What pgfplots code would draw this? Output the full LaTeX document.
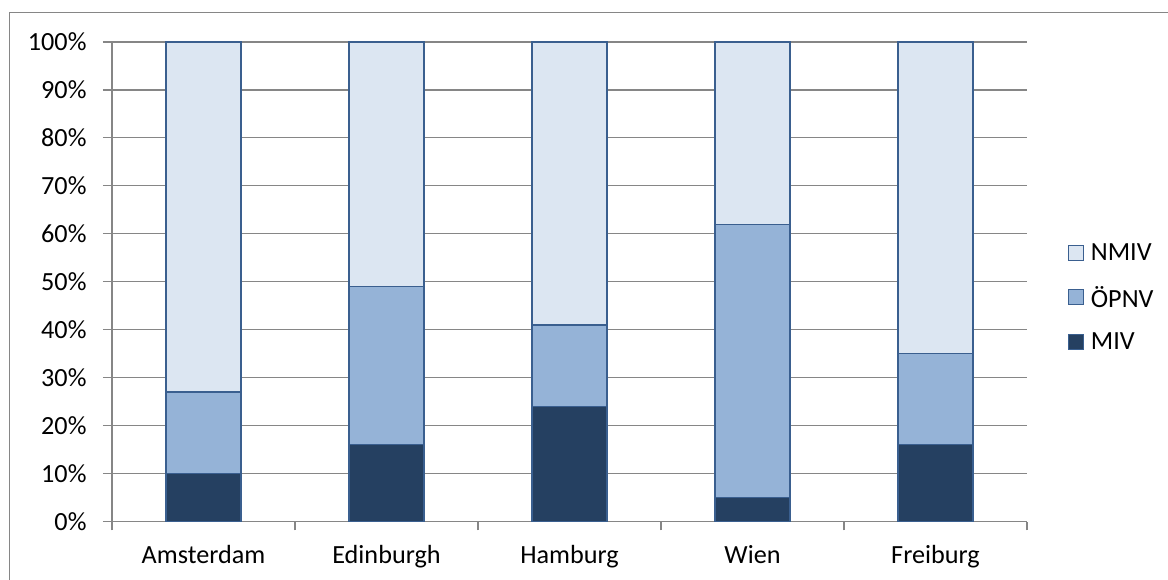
\documentclass[border=0pt]{standalone}
\usepackage{pgfplots}
\pgfplotsset{compat=1.18}
\usepackage{fontspec}
\setmainfont{Carlito}
\definecolor{nmiv}{HTML}{DCE6F2}
\definecolor{opnv}{HTML}{95B3D7}
\definecolor{miv}{HTML}{254061}
\definecolor{barline}{HTML}{3A5F8F}
\definecolor{gridc}{HTML}{868686}
\begin{document}
\begin{tikzpicture}
\useasboundingbox (0,0) rectangle (1168bp,580bp);
\clip (0,0) rectangle (1168bp,580bp);
\draw[gridc, line width=1.2bp] (9.5bp,-5bp) -- (9.5bp,567.5bp) -- (1180bp,567.5bp);
\begin{axis}[
  at={(112bp,58.5bp)}, anchor=south west,
  scale only axis, width=915bp, height=479.5bp,
  ybar stacked, bar width=75bp,
  xmin=-0.5, xmax=4.5, ymin=0, ymax=100,
  xtick={0,1,2,3,4},
  xticklabels={Amsterdam,Edinburgh,Hamburg,Wien,Freiburg},
  minor xtick={-0.5,0.5,1.5,2.5,3.5,4.5},
  ytick={0,10,...,100},
  yticklabels={0\%,10\%,20\%,30\%,40\%,50\%,60\%,70\%,80\%,90\%,100\%},
  axis lines*=left,
  axis line style={gridc, line width=1.2bp},
  tick align=outside,
  major x tick style={draw=none},
  minor x tick style={gridc, line width=1.2bp},
  y tick style={gridc, line width=1.2bp},
  minor tick length=9bp, major tick length=9bp,
  ymajorgrids, grid style={gridc, line width=1.2bp},
  ticklabel style={font=\fontsize{26.3}{31}\selectfont, text=black},
  xticklabel style={yshift=-11bp},
  yticklabel style={xshift=-13bp},
  legend style={draw=none, fill=none, at={(1.041,0.588)}, anchor=north west,
    font=\fontsize{26.3}{31}\selectfont, row sep=20bp,
    /tikz/every odd column/.append style={column sep=5bp}},
  legend cell align=left,
  reverse legend,
  legend image code/.code={\draw[#1, line width=1.2bp] (0bp,-7.5bp) rectangle (15bp,7.5bp);},
  every axis plot/.append style={draw=barline, line width=1.2bp},
]
\addplot[fill=miv] coordinates {(0,10) (1,16) (2,24) (3,5) (4,16)};
\addplot[fill=opnv] coordinates {(0,17) (1,33) (2,17) (3,57) (4,19)};
\addplot[fill=nmiv] coordinates {(0,73) (1,51) (2,59) (3,38) (4,65)};
\legend{MIV,ÖPNV,NMIV}
\end{axis}
\end{tikzpicture}
\end{document}
